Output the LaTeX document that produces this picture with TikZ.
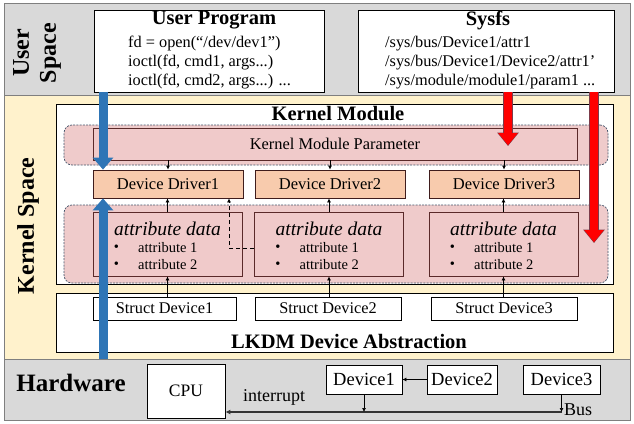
\documentclass[tikz,border=0pt]{standalone}
\usepackage{fontspec}
\setmainfont{Liberation Serif}
\usetikzlibrary{arrows.meta,calc}
\definecolor{bandgray}{HTML}{D9D9D9}
\definecolor{cream}{HTML}{FFF2CC}
\definecolor{pinkreg}{HTML}{EFCBCB}
\definecolor{pinkbox}{HTML}{F0CACA}
\definecolor{brownline}{HTML}{5A2A2A}
\definecolor{peach}{HTML}{F8CBAD}
\definecolor{bluearr}{HTML}{2E75B6}
\definecolor{redarr}{HTML}{FF0000}
\definecolor{dashblue}{HTML}{44546A}
\definecolor{frame}{HTML}{7F7F7F}
\begin{document}
\begin{tikzpicture}[x=1pt,y=-1pt,
  wbox/.style={draw, fill=white, line width=0.8pt, inner sep=0pt},
  region/.style={draw=dashblue, fill=pinkreg, dashed, dash pattern=on 2pt off 1.2pt, line width=0.7pt, rounded corners=8pt, inner sep=0pt},
  pbox/.style={draw=brownline, fill=pinkbox, line width=0.8pt, inner sep=0pt},
  drv/.style={draw=brownline!70!black, fill=peach, line width=0.8pt, inner sep=0pt, minimum width=150pt, minimum height=28pt, font=\fontsize{16.5}{18}\selectfont},
  hbox/.style={draw, fill=white, line width=0.8pt, inner sep=0pt, minimum height=29pt, font=\fontsize{18.5}{20}\selectfont},
  sbox/.style={draw, fill=white, line width=0.8pt, inner sep=0pt, minimum height=23pt, font=\fontsize{16.3}{18}\selectfont},
  ttl/.style={font=\fontsize{20.5}{24}\selectfont\bfseries, inner sep=0pt},
  codetxt/.style={font=\fontsize{16.3}{19}\selectfont, align=left, anchor=west, inner sep=0pt},
  lbl/.style={font=\fontsize{14.5}{16}\selectfont, inner sep=0pt},
  ital/.style={font=\fontsize{19.5}{21}\selectfont\itshape, inner sep=0pt},
  side/.style={font=\fontsize{24}{27}\selectfont\bfseries, rotate=90, align=center, inner sep=0pt},
  sarrow/.style={-{Latex[length=4pt,width=4pt]}, line width=0.7pt},
  bigblue/.style={draw=bluearr, line width=9pt, -{Triangle[length=12pt,width=20pt]}},
  redouter/.style={draw=dashblue!70!redarr, line width=9.4pt, -{Triangle[length=13.5pt,width=21pt]}},
  bigred/.style={draw=redarr, line width=8pt, -{Triangle[length=12pt,width=18.5pt]}, shorten >=0.8pt}
]
\useasboundingbox (0,0) rectangle (634,423);
% bands
\fill[white] (0,0) rectangle (634,423);
\filldraw[fill=bandgray, draw=frame, line width=0.8pt] (4,3) rectangle (630,95);
\filldraw[fill=cream, draw=frame, line width=0.8pt] (4,95) rectangle (630,359);
\filldraw[fill=bandgray, draw=frame, line width=0.8pt] (4,359) rectangle (630,420);

\node[side] (us) at (37,53) {User\\Space};
\node[side] (ks) at (28,226) {Kernel Space};
\node[font=\fontsize{25}{28}\selectfont\bfseries, inner sep=0pt] (hw) at (71,383) {Hardware};

% user space boxes
\node[wbox, minimum width=230pt, minimum height=82pt] (up) at (209,51) {};
\node[ttl] (upt) at (214,20) {User Program};
\node[codetxt] (upc) at (128,63) {fd = open(“/dev/dev1”)\\ioctl(fd, cmd1, args...)\\ioctl(fd, cmd2, args...) ...};
\node[wbox, minimum width=256pt, minimum height=82pt] (sys) at (486,51) {};
\node[ttl] (syst) at (488,20) {Sysfs};
\node[codetxt] (sysc) at (385,63) {/sys/bus/Device1/attr1\\/sys/bus/Device1/Device2/attr1’\\/sys/module/module1/param1 ...};

% kernel module
\node[wbox, minimum width=557pt, minimum height=180pt] (km) at (334.5,194) {};
\node[ttl] (kmt) at (338,114) {Kernel Module};
\node[region, minimum width=544pt, minimum height=40pt] (reg1) at (336,145) {};
\node[pbox, minimum width=484pt, minimum height=32pt, font=\fontsize{16.4}{18}\selectfont] (param) at (335,144) {Kernel Module Parameter};
\node[region, minimum width=544pt, minimum height=78pt] (reg2) at (336,244) {};

\node[drv] (d1) at (168,184) {Device Driver1};
\node[drv] (d2) at (330,184) {Device Driver2};
\node[drv] (d3) at (504,184) {Device Driver3};

\foreach \i/\cx in {1/167.5,2/329,3/503.5}{
  \node[pbox, minimum width=149pt, minimum height=64pt] (a\i) at (\cx,244) {};
  \node[ital] (a\i t) at (\cx,229) {attribute data};
  \node[lbl] (a\i p) at (\cx-51,248) {•};
  \node[lbl] (a\i q) at (\cx-51,265) {•};
  \node[lbl, anchor=west] (a\i x) at (\cx-29.5,248) {attribute 1};
  \node[lbl, anchor=west] (a\i y) at (\cx-29.5,265) {attribute 2};
}

% LKDM
\node[wbox, minimum width=557pt, minimum height=59pt] (lk) at (334.5,322.5) {};
\node[ttl] (lkt) at (349,341) {LKDM Device Abstraction};
\node[sbox, minimum width=143pt] (s1) at (164.5,308.5) {Struct Device1};
\node[sbox, minimum width=146pt] (s2) at (328,308.5) {Struct Device2};
\node[sbox, minimum width=146pt] (s3) at (504,308.5) {Struct Device3};

% small arrows
\foreach \i in {1,2,3}{
  \draw[sarrow] (param.south -| d\i.north) -- (d\i.north);
  \draw[sarrow] (a\i.north) -- (a\i.north |- d\i.south);
  \draw[sarrow] (a\i.south |- s\i.north) -- (a\i.south);
}
\coordinate (dc) at (229,248);
\draw[sarrow, dashed, dash pattern=on 4pt off 3pt] (a2.west |- dc) -- (dc) -- (dc |- d1.south);

% hardware
\node[wbox, minimum width=78pt, minimum height=54pt, font=\fontsize{17.5}{19}\selectfont] (cpu) at (186,391) {CPU};
\node[hbox, minimum width=76pt] (dv1) at (364,379.5) {Device1};
\node[hbox, minimum width=70pt] (dv2) at (462,379.5) {Device2};
\node[hbox, minimum width=77pt] (dv3) at (561.5,379.5) {Device3};
\node[lbl, font=\fontsize{18}{20}\selectfont] (intr) at (274,397) {interrupt};
\node[lbl, font=\fontsize{18}{20}\selectfont, anchor=west] (bus) at (564,410) {Bus};
\coordinate (busend) at (562,412);
\draw[-{Latex[length=5pt,width=5pt]}, line width=1.3pt, draw=black!80] (busend) -- (busend -| cpu.east);
\draw[sarrow] (dv2.west) -- (dv1.east);
\draw[sarrow] (dv1.south) -- (dv1.south |- busend);
\draw[sarrow] (dv3.south) -- (dv3.south |- busend);

% big arrows
\coordinate (b1) at (103,0);
\coordinate (hwtop) at (103,359);
\draw[bigblue] (up.south -| b1) -- (d1.north -| b1);
\draw[bigblue] (hwtop) -- (d1.south -| b1);
\coordinate (r1) at (508,146);
\coordinate (r2) at (594,243);
\draw[redouter] (sys.south -| r1) -- (r1);
\draw[bigred] (sys.south -| r1) -- (r1);
\draw[redouter] (sys.south -| r2) -- (r2);
\draw[bigred] (sys.south -| r2) -- (r2);
\end{tikzpicture}
\end{document}
